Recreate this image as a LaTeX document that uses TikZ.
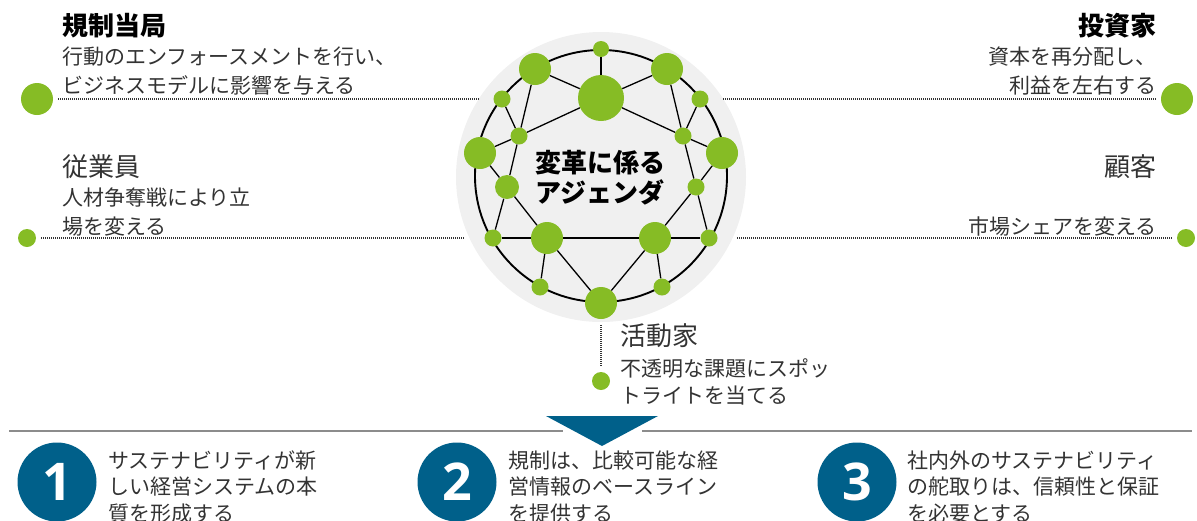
\documentclass[tikz,border=0pt]{standalone}
\usepackage{fontspec}
\setmainfont{Noto Sans CJK JP}
\newfontfamily\numfont{Open Sans}
\definecolor{dgreen}{HTML}{86BC25}
\definecolor{dblue}{HTML}{00608A}
\definecolor{lgray}{HTML}{F0F0F0}
\definecolor{txt}{HTML}{333333}
\definecolor{rule}{HTML}{8C8C8C}
\begin{document}
\begin{tikzpicture}[x=1pt,y=-1pt,
  gdot/.style={circle, fill=dgreen, inner sep=0pt, minimum size=#1},
  link/.style={draw=black, line width=1.3pt},
  dotline/.style={draw=black!80, line width=1.3pt, dash pattern=on 0.9pt off 1.1pt},
  desc/.style={font=\fontsize{21}{29}\selectfont, text=txt, inner sep=0pt},
  ttl/.style={font=\fontsize{26}{30}\selectfont\bfseries, text=black, inner sep=0pt},
  sub/.style={font=\fontsize{26}{30}\selectfont, text=txt, inner sep=0pt},
  numc/.style={circle, fill=dblue, inner sep=0pt, minimum size=79pt, text=white, font=\numfont\fontsize{52}{52}\selectfont\bfseries}
]
\useasboundingbox (0,0) rectangle (1197,520);

% background disc and ring
\node[circle, fill=lgray, minimum size=290pt, inner sep=0pt] (bg) at (601,177) {};
\node[circle, draw=black, line width=1.9pt, minimum size=252pt, inner sep=0pt] (ring) at (601,176) {};

% network nodes
\node[gdot=16pt] (t)   at (601,49) {};
\node[gdot=46pt] (big) at (601,98) {};
\node[gdot=32pt] (ul)  at (535,69) {};
\node[gdot=32pt] (ur)  at (667,69) {};
\node[gdot=17pt] (ls)  at (502,99) {};
\node[gdot=17pt] (rs)  at (700,99) {};
\node[gdot=17pt] (li)  at (519,136) {};
\node[gdot=17pt] (ri)  at (683,136) {};
\node[gdot=32pt] (ll)  at (480,153) {};
\node[gdot=32pt] (rl)  at (722,153) {};
\node[gdot=24pt] (lm)  at (507,187) {};
\node[gdot=17pt] (rm)  at (696,187) {};
\node[gdot=17pt] (lls) at (493,238) {};
\node[gdot=17pt] (rls) at (709,238) {};
\node[gdot=32pt] (llg) at (547,238) {};
\node[gdot=32pt] (rlg) at (655,238) {};
\node[gdot=17pt] (bls) at (540,287) {};
\node[gdot=17pt] (brs) at (662,287) {};
\node[gdot=32pt] (b)   at (601,303) {};

\foreach \u/\v in {t/big, ul/big, ur/big, big/li, big/ri, ul/li, ur/ri, ls/li, rs/ri,
  li/ll, ri/rl, li/lm, ri/rm, ll/lm, rl/rm, lm/lls, rm/rls, lm/llg, rm/rlg,
  lls/llg, llg/rlg, rlg/rls, llg/bls, rlg/brs, llg/b, rlg/b}
  \draw[link] (\u) -- (\v);

\node[font=\fontsize{26}{30}\selectfont\bfseries, align=center, inner sep=0pt] (agenda) at (600,178) {変革に係る\\アジェンダ};

% bullets and dotted connectors
\node[gdot=32pt] (bA) at (37,99) {};
\node[gdot=18pt] (bB) at (27,238) {};
\node[gdot=32pt] (bC) at (1177,99) {};
\node[gdot=18pt] (bD) at (1186,238) {};
\node[gdot=18pt] (bE) at (601,381) {};
\coordinate (eA) at (479,99);
\coordinate (eB) at (464,238);
\coordinate (eC) at (723,99);
\coordinate (eD) at (737,238);
\coordinate (eE) at (601,325);
\draw[dotline] ([xshift=5pt]bA.east) -- (eA);
\draw[dotline] ([xshift=5pt]bB.east) -- (eB);
\draw[dotline] ([xshift=-5pt]bC.west) -- (eC);
\draw[dotline] ([xshift=-5pt]bD.west) -- (eD);
\draw[dotline] (eE) -- ([yshift=5pt]bE.north);

% texts (base anchor of a multi-line node = baseline of its last line)
\node[ttl, anchor=base west] (tA) at (62,35) {規制当局};
\node[desc, anchor=base west, align=left] (dA) at (62,93) {行動のエンフォースメントを行い、\\ビジネスモデルに影響を与える};
\node[sub, anchor=base west] (tB) at (62,176) {従業員};
\node[desc, anchor=base west, align=left] (dB) at (62,234) {人材争奪戦により立\\場を変える};
\node[ttl, anchor=base east] (tC) at (1157,35) {投資家};
\node[desc, anchor=base east, align=right] (dC) at (1157,93) {資本を再分配し、\\利益を左右する};
\node[sub, anchor=base east] (tD) at (1157,176) {顧客};
\node[desc, anchor=base east] (dD) at (1157,234) {市場シェアを変える};
\node[sub, anchor=base west] (tE) at (620,345) {活動家};
\node[desc, anchor=base west, align=left, font=\fontsize{21}{27}\selectfont] (dE) at (620,403) {不透明な課題にスポッ\\トライトを当てる};

% bottom band
\draw[rule, line width=1.5pt] (9,431) -- (563,431);
\draw[rule, line width=1.5pt] (642,431) -- (1192,431);
\fill[dblue] (546,416) -- (658,416) -- (602,446) -- cycle;

\node[numc] (c1) at (57,482) {1};
\node[numc] (c2) at (457,482) {2};
\node[numc] (c3) at (857,482) {3};
\node[desc, anchor=base west, align=left, font=\fontsize{21}{26.5}\selectfont] (t1) at (108,521) {サステナビリティが新\\しい経営システムの本\\質を形成する};
\node[desc, anchor=base west, align=left, font=\fontsize{21}{26.5}\selectfont] (t2) at (508,521) {規制は、比較可能な経\\営情報のベースライン\\を提供する};
\node[desc, anchor=base west, align=left, font=\fontsize{21}{26.5}\selectfont] (t3) at (907,521) {社内外のサステナビリティ\\の舵取りは、信頼性と保証\\を必要とする};
\end{tikzpicture}
\end{document}
